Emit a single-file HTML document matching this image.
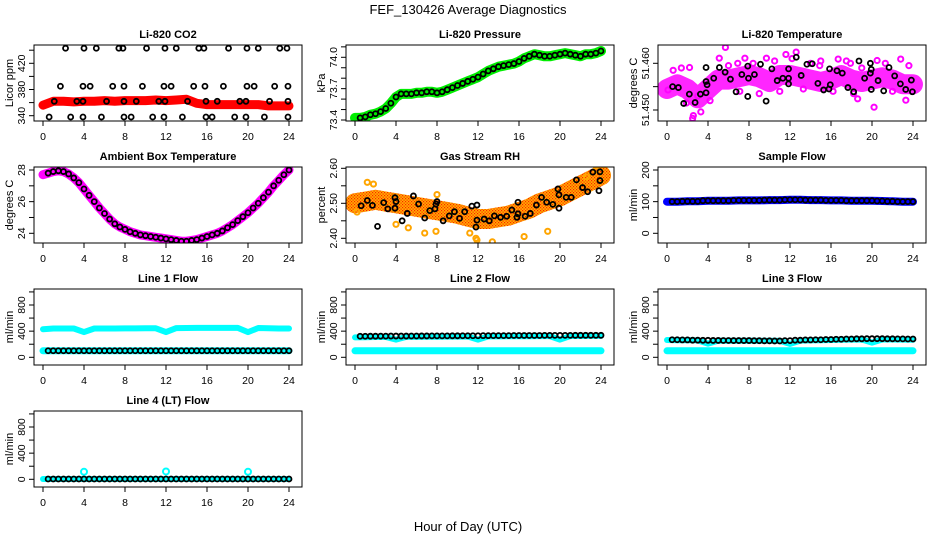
<!DOCTYPE html>
<html><head><meta charset="utf-8"><style>
html,body{margin:0;padding:0;background:#fff;}
svg{display:block;font-family:"Liberation Sans",Arial,sans-serif;}
</style></head><body>
<svg id="chart" width="936" height="540" viewBox="0 0 936 540">
<defs>
<pattern id="chk" width="3" height="3" patternUnits="userSpaceOnUse"><rect width="3" height="3" fill="#ffb000"/><rect width="1.2" height="1.2" fill="#ff2000"/><rect x="1.5" y="1.5" width="1.2" height="1.2" fill="#ff2000"/></pattern>
</defs>
<text x="468" y="14" text-anchor="middle" font-size="13">FEF_130426  Average Diagnostics</text>
<text x="468" y="531" text-anchor="middle" font-size="13">Hour of Day (UTC)</text>
</svg>
<script>
const hours49=[0,0.5,1,1.5,2,2.5,3,3.5,4,4.5,5,5.5,6,6.5,7,7.5,8,8.5,9,9.5,10,10.5,11,11.5,12,12.5,13,13.5,14,14.5,15,15.5,16,16.5,17,17.5,18,18.5,19,19.5,20,20.5,21,21.5,22,22.5,23,23.5,24];
const hours25=[0,1,2,3,4,5,6,7,8,9,10,11,12,13,14,15,16,17,18,19,20,21,22,23,24];
const xTicks=[0,4,8,12,16,20,24];
// CO2
const co2Red=[356,362,362,361,362,362,363,362,363,363,363,364,363,364,365,359,357,357,357,357,357,357,355,355,355];
const co2TopX=[2.2,4,5.2,7.4,7.8,10.1,11.9,13,15.2,15.7,18.1,19.9,21,23.1,23.8];
const co2MidX=[1.7,3.9,4.6,6.8,7.9,9.7,11.8,12.5,14.7,15.8,17.6,19.9,20.6,22.6,23.9];
const co2LowX=[1.1,3.3,3.9,6.2,7.9,9.1,11.3,11.9,14.1,15.9,17,19.2,19.8,22.1,23.9];
const co2BotX=[0.6,2.7,3.9,5.7,7.9,8.6,10.7,11.8,13.6,15.9,16.5,18.7,19.8,21.6,23.9];
const co2Levels=[443,385,362,338];
// Pressure
const pressure=[73.42,73.42,73.43,73.45,73.46,73.48,73.51,73.56,73.62,73.65,73.65,73.65,73.66,73.66,73.67,73.67,73.66,73.67,73.69,73.71,73.73,73.75,73.77,73.79,73.81,73.84,73.87,73.89,73.91,73.92,73.93,73.94,73.96,73.99,74.01,74.03,74.02,74.01,74.01,74.02,74.03,74.04,74.03,74.02,74.01,74.03,74.03,74.04,74.06];
// Li-820 temperature
const tempBand=[51.4545,51.4555,51.4545,51.4525,51.4545,51.4565,51.4565,51.457,51.4575,51.457,51.456,51.4575,51.4575,51.457,51.4565,51.456,51.4565,51.4575,51.4565,51.456,51.4565,51.457,51.4565,51.4555,51.4555];
const tempMagX=[5.7,12.6,2.5,2.57,20.2,22.8,15.0,2.2,11.6,16.7,17.5,20.5,18.6,23.3,3.3,0.1,5.1,7.6,9.7,0.6,1.4,3.0,4.2,6.0,6.9,8.4,9.0,10.5,11.0,13.3,14.0,14.9,16.2,17.9,19.0,21.3,22.0,23.6,1.9,7.1,12.2,18.2];
const tempMagY=[51.4634,51.4624,51.4482,51.4488,51.4506,51.4609,51.4605,51.4591,51.4619,51.4609,51.4605,51.4606,51.4524,51.4521,51.4496,51.4543,51.4611,51.4611,51.4611,51.4585,51.4590,51.4530,51.4520,51.4595,51.4600,51.4600,51.4535,51.4605,51.4540,51.4545,51.4600,51.4595,51.4540,51.4600,51.4590,51.4600,51.4540,51.4595,51.4515,51.4540,51.4610,51.4535];
const tempBlkX=[0.55,1.11,1.63,2.18,2.74,3.26,3.81,3.81,3.91,3.81,4.56,5.11,5.67,6.19,6.74,7.30,7.88,7.88,7.95,8.53,9.12,9.67,10.23,10.75,11.30,11.86,11.86,11.86,12.61,13.09,13.65,14.17,14.72,15.28,15.80,15.86,15.93,16.58,17.10,17.65,18.21,18.73,19.28,19.84,19.84,19.93,19.93,20.59,21.14,21.66,22.21,22.77,23.29,23.84,23.94];
const tempBlkY=[51.4550,51.4548,51.4514,51.4534,51.4516,51.4534,51.4537,51.4561,51.4554,51.4591,51.4568,51.4591,51.4581,51.4566,51.4539,51.4576,51.4594,51.4529,51.4568,51.4576,51.4598,51.4519,51.4588,51.4563,51.4568,51.4588,51.4568,51.4556,51.4613,51.4574,51.4598,51.4599,51.4557,51.4543,51.4545,51.4588,51.4554,51.4584,51.4579,51.4548,51.4539,51.4605,51.4568,51.4600,51.4579,51.4587,51.4544,51.4563,51.4541,51.4591,51.4573,51.4556,51.4544,51.4564,51.4539];
// Ambient
const ambient=[27.7,27.8,27.9,27.95,27.9,27.75,27.5,27.2,26.8,26.4,26.0,25.6,25.25,24.9,24.6,24.4,24.25,24.1,24.0,23.9,23.85,23.8,23.75,23.7,23.65,23.6,23.55,23.5,23.5,23.55,23.6,23.7,23.8,23.9,24.0,24.15,24.35,24.55,24.8,25.05,25.3,25.6,25.9,26.25,26.6,27.0,27.35,27.7,28.0];
// RH
const rhBand=[2.50,2.505,2.51,2.505,2.50,2.495,2.49,2.485,2.48,2.475,2.47,2.462,2.455,2.455,2.46,2.465,2.475,2.485,2.50,2.51,2.52,2.535,2.55,2.565,2.58];
const rhOutX=[1.2,1.8,0.2,4.0,6.8,7.9,11.2,11.8,11.9,13.4,16.5,18.8,22.6,23.5,8.0,5.2];
const rhOutY=[2.56,2.555,2.475,2.44,2.415,2.42,2.415,2.40,2.395,2.39,2.405,2.42,2.575,2.595,2.525,2.43];
const rhBlkX=[0.6,1.2,1.7,2.8,2.2,3.2,3.9,3.9,4.0,4.6,5.1,5.7,6.2,6.8,7.3,7.8,7.9,8.0,8.6,9.2,9.7,10.2,10.7,11.4,11.9,11.8,11.9,12.6,13.1,13.6,14.2,14.8,15.3,15.9,15.8,15.9,16.6,17.1,17.7,18.2,18.7,19.3,19.8,19.9,19.9,20.6,21.1,21.6,22.2,22.7,23.2,23.9,23.9,23.8];
const rhBlkY=[2.493,2.508,2.494,2.502,2.434,2.484,2.486,2.516,2.505,2.45,2.471,2.521,2.498,2.458,2.479,2.484,2.498,2.505,2.45,2.464,2.476,2.457,2.476,2.492,2.495,2.432,2.452,2.455,2.45,2.464,2.46,2.463,2.481,2.503,2.46,2.47,2.463,2.471,2.495,2.517,2.503,2.497,2.541,2.486,2.524,2.517,2.517,2.567,2.545,2.533,2.589,2.59,2.565,2.536];
// Sample flow
const sampleFlow=[100,100,101,101,103,103,103,104,104,104,105,105,106,106,105,105,104,104,103,103,103,102,101,100,100];
// Line flows
const line1Cyan=[430,440,440,440,385,440,440,441,442,442,443,444,385,446,448,450,450,450,450,450,385,448,444,440,440];
const line1Low=[100,100,100,100,100,100,100,100,100,100,100,100,100,100,100,100,100,100,100,100,100,100,100,100,100];
const line1Blk=[100,100,100,100,100,100,100,100,100,100,100,100,100,100,100,100,100,100,100,100,100,100,100,100,100];
const line2Cyan=[305,308,310,310,270,312,312,314,315,316,317,318,270,320,320,322,322,323,324,325,270,326,326,327,328];
const line2Low=[100,100,100,100,100,100,100,100,100,100,100,100,100,100,100,100,100,100,100,100,100,100,100,100,100];
const line2Blk=[320,322,323,324,325,325,326,327,328,328,329,330,330,331,332,332,333,334,334,335,335,335,336,336,336];
const line3Cyan=[265,262,260,258,210,255,254,254,255,253,252,252,205,255,258,260,265,268,270,272,225,272,272,270,268];
const line3Low=[100,100,100,100,100,100,100,100,100,100,100,100,100,100,100,100,100,100,100,100,100,100,100,100,100];
const line3Blk=[270,268,266,262,260,258,257,256,256,254,252,250,255,262,266,268,272,276,280,283,285,285,283,282,280];
const line4Cyan=[5,5,5,5,115,5,5,5,5,5,5,5,120,5,5,5,5,5,5,5,115,5,5,5,5];
const line4Blk=[5,5,5,5,5,5,5,5,5,5,5,5,5,5,5,5,5,5,5,5,5,5,5,5,5];

const svg=document.getElementById('chart');
const NS='http://www.w3.org/2000/svg';
function mk(tag,attrs,parent){const e=document.createElementNS(NS,tag);for(const k in attrs)e.setAttribute(k,attrs[k]);(parent||svg).appendChild(e);return e;}

function panel(cfg){
  const ox=312*cfg.col, oy=122*cfg.row;
  const g=mk('g',{});
  
  
  const L=34+ox,R=302+ox,T=45+oy,B=121+oy;
  const xs=h=>43+ox+h*10.25;
  const ys=v=>oy+cfg.p1+(v-cfg.v1)*(cfg.p2-cfg.p1)/(cfg.v2-cfg.v1);
  const t=mk('text',{x:(L+R)/2,y:38+oy,'text-anchor':'middle','font-size':11,'font-weight':'bold'},g);
  t.textContent=cfg.title;
  
  
  const yl=mk('text',{x:0,y:0,'text-anchor':'middle','font-size':11,transform:`translate(${L-21},${(T+B)/2}) rotate(-90)`},g);
  yl.textContent=cfg.ylab;
  
  
  xTicks.forEach(h=>{
    mk('line',{x1:xs(h),x2:xs(h),y1:B,y2:B+5,stroke:'#000','stroke-width':1},g);
    const tx=mk('text',{x:xs(h),y:B+19,'text-anchor':'middle','font-size':10.5},g);
    tx.textContent=h;
    
    
  });
  cfg.ticks.forEach(v=>{
    mk('line',{x1:L-5,x2:L,y1:ys(v),y2:ys(v),stroke:'#000','stroke-width':1},g);
  });
  cfg.labels.forEach((v,i)=>{
    const ty=mk('text',{x:0,y:0,'text-anchor':'middle','font-size':10.5,transform:`translate(${L-9},${ys(v)}) rotate(-90)`},g);
    ty.textContent=cfg.labelText[i];
    
    
  });
  const clip='clip'+cfg.name;
  const cp=mk('clipPath',{id:clip},g);mk('rect',{x:L,y:T,width:R-L,height:B-T},cp);
  const pg=mk('g',{'clip-path':`url(#${clip})`},g);
  
  
  const box=mk('rect',{x:L,y:T,width:R-L,height:B-T,fill:'none',stroke:'#000','stroke-width':1},g);
  
  
  return {xs,ys,g:pg};
}
function band(p,xa,ya,color,w,name,op){
  const pts=xa.map((x,i)=>p.xs(x).toFixed(1)+','+p.ys(ya[i]).toFixed(1)).join(' ');
  const e=mk('polyline',{points:pts,fill:'none',stroke:color,'stroke-width':w,'stroke-linejoin':'round','stroke-linecap':'round','stroke-opacity':op||1},p.g);
  
  
}
function dots(p,xa,ya,color,name,r,sw){
  xa.forEach((x,i)=>{
    const c=mk('circle',{cx:p.xs(x),cy:p.ys(ya[i]),r:r||2.5,fill:'none',stroke:color,'stroke-width':sw||1.8},p.g);
    
    
  });
}
const skip0=a=>a.slice(1);

// CO2
let p=panel({name:'co2-panel',col:0,row:0,title:'Li-820 CO2',ylab:'Licor ppm',v1:340,p1:115.7,v2:420,p2:63.3,ticks:[340,360,380,400,420,440],labels:[340,380,420],labelText:['340','380','420']});
band(p,hours25,co2Red,'#ff0000',9,'co2-series');
[co2TopX,co2MidX,co2LowX,co2BotX].forEach((xa,k)=>dots(p,xa,xa.map(()=>co2Levels[k]),'#000','co2-point'));
// Pressure
p=panel({name:'pressure-panel',col:1,row:0,title:'Li-820 Pressure',ylab:'kPa',v1:73.4,p1:120,v2:74.0,p2:57.3,ticks:[73.4,73.5,73.6,73.7,73.8,73.9,74.0,74.1],labels:[73.4,73.7,74.0],labelText:['73.4','73.7','74.0']});
band(p,hours49,pressure,'#00ee00',10,'pressure-series');
dots(p,skip0(hours49),skip0(pressure),'#000','pressure-point');
// Temperature
p=panel({name:'temperature-panel',col:2,row:0,title:'Li-820 Temperature',ylab:'degrees C',v1:51.450,p1:110,v2:51.460,p2:63.3,ticks:[51.450,51.455,51.460],labels:[51.450,51.460],labelText:['51.450','51.460']});
band(p,hours25,tempBand,'#ff00ff',20,'temperature-series',0.85);
dots(p,tempMagX,tempMagY,'#ff00ff','temperature-outlier',2.6,2);
dots(p,tempBlkX,tempBlkY,'#000','temperature-point');
// Ambient
p=panel({name:'ambient-panel',col:0,row:1,title:'Ambient Box Temperature',ylab:'degrees C',v1:24,p1:111.3,v2:28,p2:48,ticks:[24,25,26,27,28],labels:[24,26,28],labelText:['24','26','28']});
band(p,hours49,ambient,'#ff00ff',9,'ambient-series');
dots(p,skip0(hours49),skip0(ambient),'#000','ambient-point');
// RH
p=panel({name:'rh-panel',col:1,row:1,title:'Gas Stream RH',ylab:'percent',v1:2.40,p1:116.3,v2:2.60,p2:46.3,ticks:[2.40,2.45,2.50,2.55,2.60],labels:[2.40,2.50,2.60],labelText:['2.40','2.50','2.60']});
band(p,hours25,rhBand,'url(#chk)',20,'rh-series');
dots(p,rhOutX,rhOutY,'#ffa500','rh-outlier',2.6,2);
dots(p,rhBlkX,rhBlkY,'#000','rh-point');
// Sample flow
p=panel({name:'sample-flow-panel',col:2,row:1,title:'Sample Flow',ylab:'ml/min',v1:0,p1:111.3,v2:200,p2:48,ticks:[0,50,100,150,200],labels:[0,100,200],labelText:['0','100','200']});
band(p,hours25,sampleFlow,'#0000ff',8,'sample-flow-series');
dots(p,hours25.slice(1),sampleFlow.slice(1),'#000','sample-flow-point');
dots(p,hours25.slice(0,24).map(h=>h+0.5),sampleFlow.slice(1),'#000','sample-flow-point');
// Line flows
const flowCfg=(name,col,row,title)=>({name,col,row,title,ylab:'ml/min',v1:0,p1:113.3,v2:800,p2:61,ticks:[0,200,400,600,800,1000],labels:[0,400,800],labelText:['0','400','800']});
function flowPanel(cfg,cy,low,blk){
  const q=panel(cfg);
  band(q,hours25,cy,'#00ffff',6,'cyan-flow-series');
  if(low) band(q,hours25,low,'#00ffff',7,'cyan-low-series');
  dots(q,hours25.slice(1),blk.slice(1),'#000','black-flow-point');
  dots(q,hours25.slice(0,24).map(h=>h+0.5),blk.slice(1),'#000','black-flow-point');
  return q;
}
flowPanel(flowCfg('line1-panel',0,2,'Line 1 Flow'),line1Cyan,line1Low,line1Blk);
flowPanel(flowCfg('line2-panel',1,2,'Line 2 Flow'),line2Cyan,line2Low,line2Blk);
flowPanel(flowCfg('line3-panel',2,2,'Line 3 Flow'),line3Cyan,line3Low,line3Blk);
p=panel(flowCfg('line4-panel',0,3,'Line 4 (LT) Flow'));
band(p,hours25,line4Blk,'#00ffff',6,'cyan-flow-series');
dots(p,[4,12,20],[line4Cyan[4],line4Cyan[12],line4Cyan[20]],'#00ffff','cyan-outlier',3,2);
dots(p,hours25.slice(1),line4Blk.slice(1),'#000','black-flow-point');
dots(p,hours25.slice(0,24).map(h=>h+0.5),line4Blk.slice(1),'#000','black-flow-point');
</script>
</body></html>
